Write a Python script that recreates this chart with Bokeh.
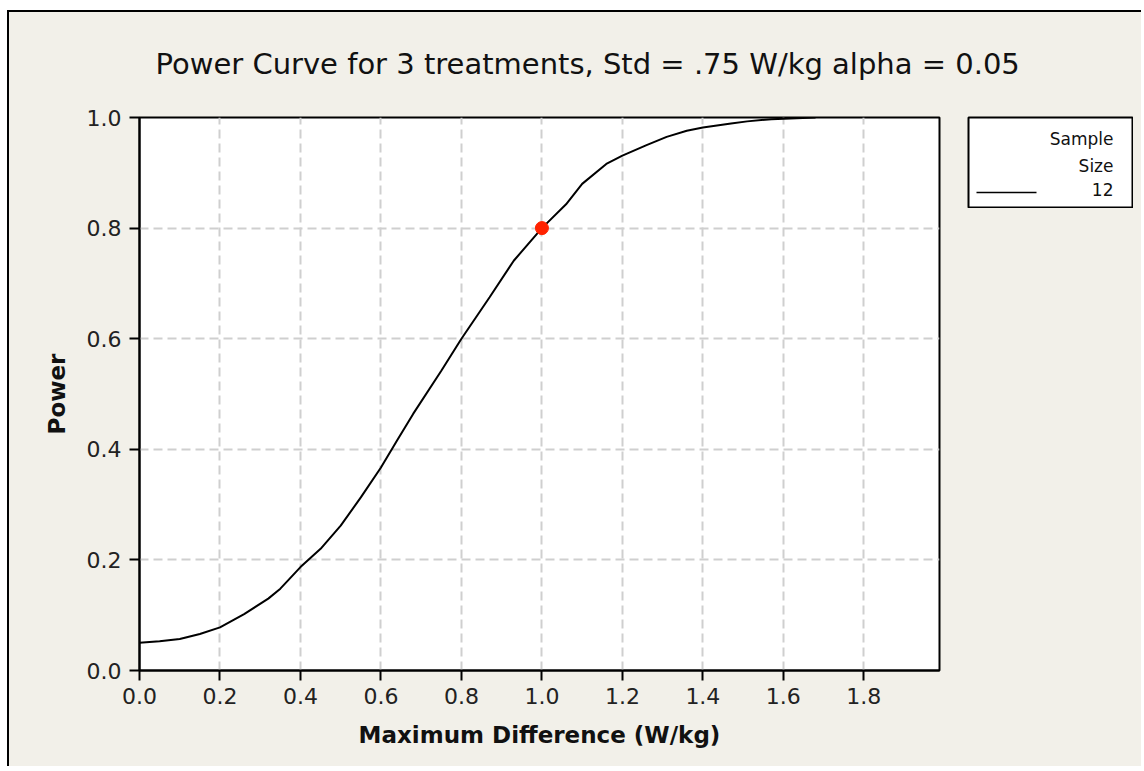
from bokeh.plotting import figure
from bokeh.models import Range1d, FixedTicker, NumeralTickFormatter, Spacer
from bokeh.layouts import row, column
from bokeh.core.properties import value
from bokeh.embed import file_html
from bokeh.resources import INLINE

# ---- data ----
max_diff = [0.00, 0.05, 0.10, 0.15, 0.20, 0.26, 0.32, 0.35, 0.40, 0.45, 0.50,
            0.55, 0.60, 0.64, 0.68, 0.75, 0.80, 0.87, 0.93, 1.00, 1.06, 1.10,
            1.16, 1.20, 1.26, 1.31, 1.36, 1.40, 1.47, 1.51, 1.57, 1.68]
power = [0.050, 0.053, 0.057, 0.066, 0.078, 0.102, 0.130, 0.148, 0.187, 0.220,
         0.262, 0.313, 0.367, 0.416, 0.464, 0.542, 0.600, 0.675, 0.741, 0.800,
         0.843, 0.880, 0.916, 0.931, 0.950, 0.965, 0.976, 0.982, 0.989, 0.993,
         0.997, 1.000]
target_diff = [1.0]
target_power = [0.80]
x_ticks = [0.0, 0.2, 0.4, 0.6, 0.8, 1.0, 1.2, 1.4, 1.6, 1.8]
y_ticks = [0.0, 0.2, 0.4, 0.6, 0.8, 1.0]
chart_title = "Power Curve for 3 treatments, Std = .75 W/kg  alpha = 0.05"
legend_title_lines = ["Sample", "Size"]
sample_size_label = "12"

FONT = "DejaVu Sans"
BG = "#f2f0e9"
TOTAL_W = 1132
TITLE_H = 85

# ---- title strip ----
tf = figure(width=TOTAL_W, height=TITLE_H, output_backend="svg",
            toolbar_location=None, x_range=Range1d(0, TOTAL_W),
            y_range=Range1d(0, TITLE_H), min_border=0)
tf.frame_width = TOTAL_W
tf.frame_height = TITLE_H
tf.axis.visible = False
tf.grid.visible = False
tf.outline_line_color = None
tf.background_fill_color = BG
tf.border_fill_color = BG
tf.text(x=[146], y=[34], text=[chart_title], text_align="left",
        text_baseline="alphabetic", text_font=value(FONT),
        text_font_size="29px", text_color="#111111")

# ---- main plot ----
p = figure(width=958, height=669, output_backend="svg", toolbar_location=None,
           x_range=Range1d(0, 1.988), y_range=Range1d(0, 1.0),
           min_border_left=130, min_border_right=28, min_border_top=20,
           min_border_bottom=96)
p.frame_width = 800
p.frame_height = 553

p.background_fill_color = "white"
p.border_fill_color = BG
p.outline_line_color = "black"
p.outline_line_width = 2

for ax in (p.xaxis[0], p.yaxis[0]):
    ax.axis_line_color = "black"
    ax.axis_line_width = 2
    ax.major_tick_line_color = "black"
    ax.major_tick_line_width = 2
    ax.major_tick_out = 10
    ax.major_tick_in = 0
    ax.minor_tick_line_color = None
    ax.major_label_text_font = FONT
    ax.major_label_text_font_size = "22px"
    ax.major_label_text_color = "#222222"
    ax.axis_label_text_font = FONT
    ax.axis_label_text_font_size = "23px"
    ax.axis_label_text_font_style = "bold"
    ax.axis_label_text_color = "#111111"
    ax.formatter = NumeralTickFormatter(format="0.0")

p.xaxis.ticker = FixedTicker(ticks=x_ticks)
p.yaxis.ticker = FixedTicker(ticks=y_ticks)
p.xaxis.axis_label = "Maximum Difference (W/kg)"
p.yaxis.axis_label = "Power"
p.xaxis.major_label_standoff = 7
p.xaxis.axis_label_standoff = 15
p.yaxis.major_label_standoff = 8
p.yaxis.axis_label_standoff = 14

for g in (p.xgrid[0], p.ygrid[0]):
    g.grid_line_color = "#cfcfcf"
    g.grid_line_width = 2
    g.grid_line_dash = "9 5"
p.xgrid.ticker = FixedTicker(ticks=x_ticks)
p.ygrid.ticker = FixedTicker(ticks=y_ticks)

p.line(max_diff, power, line_color="black", line_width=2)
p.scatter(target_diff, target_power, size=13, fill_color="#ff2200",
          line_color="#ff2200")

# ---- legend box (a small figure in pixel-like units) ----
leg = figure(width=166, height=92, output_backend="svg", toolbar_location=None,
             x_range=Range1d(0, 164), y_range=Range1d(0, 90),
             min_border=1)
leg.frame_width = 164
leg.frame_height = 90
leg.axis.visible = False
leg.grid.visible = False
leg.background_fill_color = "white"
leg.border_fill_color = BG
leg.outline_line_color = "black"
leg.outline_line_width = 2
leg.text(x=[145, 145], y=[69, 42], text=legend_title_lines,
         text_align="right", text_baseline="middle",
         text_font=value(FONT), text_font_size="17px", text_color="#111111")
leg.text(x=[145], y=[18], text=[sample_size_label],
         text_align="right", text_baseline="middle",
         text_font=value(FONT), text_font_size="17px", text_color="#111111")
leg.line(x=[8, 68], y=[15, 15], line_color="black", line_width=1.5)

body = row(p, column(Spacer(height=19, width=166), leg,
                     styles={"background-color": BG}),
           Spacer(width=8, height=669, styles={"background-color": BG}),
           styles={"background-color": BG})

layout = column(tf, body,
                styles={"background-color": BG, "margin-left": "7px",
                        "margin-top": "10px", "border-left": "2px solid black",
                        "border-top": "2px solid black"})

open("out.html", "w").write(file_html(layout, INLINE))
